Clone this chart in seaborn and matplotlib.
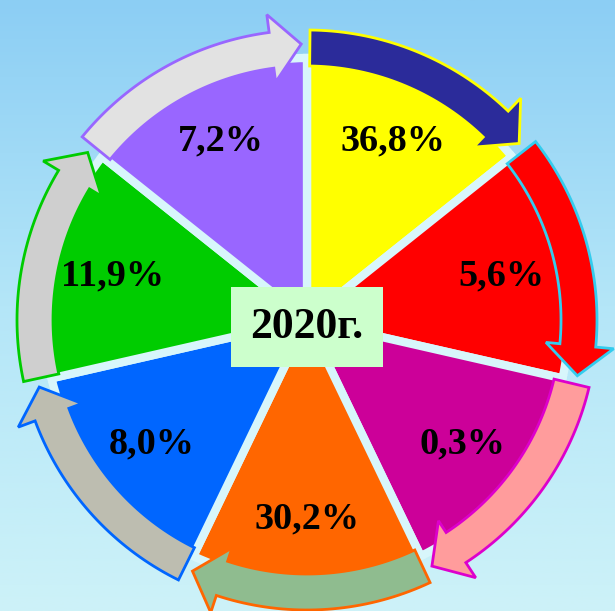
import numpy as np
import matplotlib
matplotlib.use("Agg")
import matplotlib.pyplot as plt
from matplotlib.patches import Polygon
import seaborn as sns

# segments, clockwise from 12 o'clock
segments = ["yellow", "red", "magenta", "orange", "blue", "green", "purple"]
shares = [36.8, 5.6, 0.3, 30.2, 8.0, 11.9, 7.2]
slice_weights = [1, 1, 1, 1, 1, 1, 1]  # the picture draws equal slices
year_label = "2020г."

wedge_colors = ["#FFFF00", "#FF0000", "#CC0099", "#FF6600", "#0066FF", "#00CC00", "#9966FF"]
arrow_colors = ["#2B2B9A", "#FF0000", "#FF9C9C", "#8FBC8F", "#BDBDB0", "#CFCFCF", "#E2E2E2"]
arrow_edges = ["#FFFF00", "#33CCEE", "#DD00CC", "#FF6600", "#0066FF", "#00CC00", "#9966FF"]

sns.set_theme(style="white")
plt.rcParams["font.family"] = ["Liberation Serif", "DejaVu Serif"]

W, H = 615, 611
cx, cy = 307, H - 320
R_WEDGE, R_IN, R_OUT = 262, 254, 290

fig = plt.figure(figsize=(W / 100, H / 100), dpi=100)
ax = fig.add_axes([0, 0, 1, 1])

# sky background
grad = np.linspace(0, 1, 256)[:, None]
sky = sns.blend_palette(["#8CCEF4", "#B4E6F8", "#CDF2F8"], as_cmap=True)
ax.imshow(grad, extent=(0, W, 0, H), cmap=sky, aspect="auto", zorder=0)

labels = [f"{v:.1f}%".replace(".", ",") for v in shares]
wedges, texts = ax.pie(
    slice_weights, colors=wedge_colors, labels=labels, startangle=90,
    counterclock=False, radius=R_WEDGE, center=(cx, cy), labeldistance=0.76,
    wedgeprops=dict(edgecolor="#D8F6FB", linewidth=6),
    textprops=dict(ha="center", va="center", fontsize=27.5, fontweight="bold", color="black"),
)
for w in wedges:
    w.set_zorder(2)
for t in texts:
    t.set_zorder(5)


def arc(r, a0, a1, n=40):
    th = np.radians(np.linspace(a0, a1, n))
    return np.column_stack([cx + r * np.cos(th), cy + r * np.sin(th)])


# clockwise arrows round the rim, one per slice
for w, fc, ec in zip(wedges, arrow_colors, arrow_edges):
    start = w.theta2 - 0.6
    base = w.theta1 + 7.5
    tip = w.theta1 + 1.2
    outer = arc(R_OUT, start, base)
    inner = arc(R_IN, base, start)
    head = np.vstack([
        arc(R_OUT + 18, base, base, 1),
        arc((R_IN + R_OUT) / 2 + 4, tip, tip, 1),
        arc(R_IN - 14, base, base, 1),
    ])
    pts = np.vstack([outer, head, inner])
    ax.add_patch(Polygon(pts, closed=True, facecolor=fc, edgecolor=ec, linewidth=2, zorder=3))

ax.text(cx, H - 327, year_label, ha="center", va="center", fontsize=31.5, fontweight="bold",
        color="black", zorder=6,
        bbox=dict(boxstyle="square,pad=0.45", facecolor="#CCFFCC", edgecolor="none"))

ax.set_xlim(0, W)
ax.set_ylim(0, H)
ax.set_aspect("equal")
ax.axis("off")
fig.savefig("out.png", dpi=100)
